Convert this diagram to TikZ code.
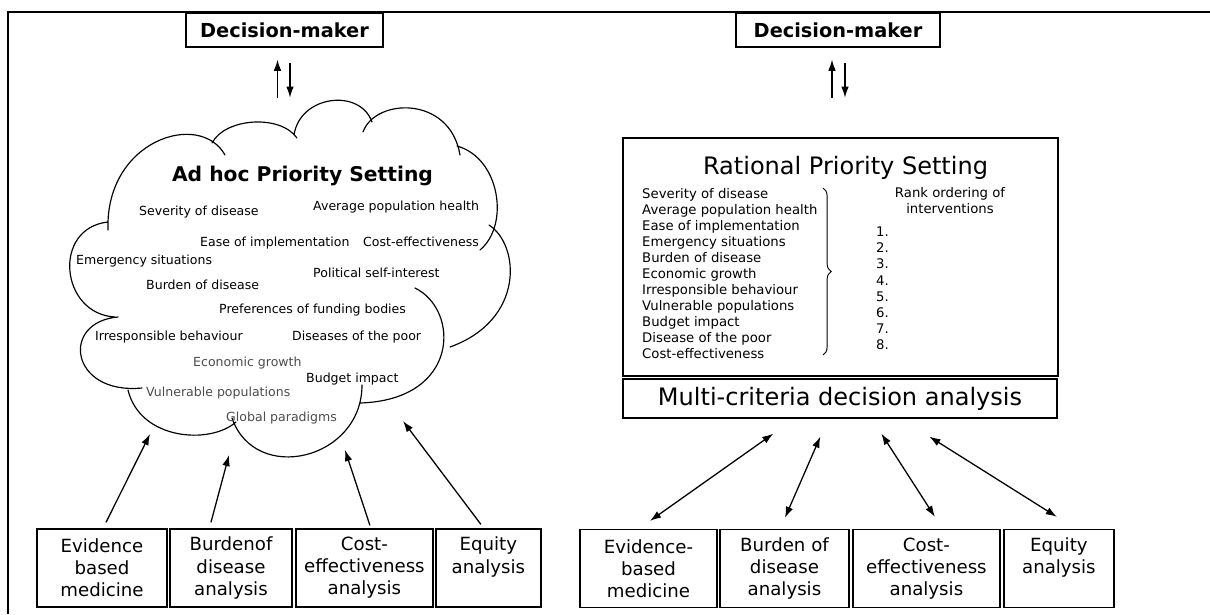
\documentclass[tikz,border=0pt]{standalone}
\usepackage{fontspec}
\setmainfont{DejaVu Sans}
\usepackage{tikz}
\usetikzlibrary{arrows.meta,positioning,calc,decorations.pathreplacing}
\tikzstyle{dmbox}=[draw,line width=1.1pt,font=\bfseries\fontsize{16.5}{19}\selectfont,minimum height=1.02cm,inner sep=0pt]
\tikzstyle{toolbox}=[draw,line width=1.1pt,align=center,font=\fontsize{15.5}{18.8}\selectfont,minimum height=2.34cm,inner sep=0pt]
\tikzstyle{item}=[anchor=west,inner sep=0pt,font=\fontsize{10.7}{13}\selectfont,text height=1.5ex,text depth=.25ex]
\tikzstyle{faint}=[item,text=black!70]
\tikzstyle{arr}=[line width=1.1pt,-{Latex[length=9.5pt,width=6.5pt]}]
\tikzstyle{dbl}=[line width=1.1pt,{Latex[length=9.5pt,width=6.5pt]}-{Latex[length=9.5pt,width=6.5pt]}]
\tikzstyle{puff}=[line width=1pt,line cap=round]

\begin{document}
\begin{tikzpicture}[x=0.03cm,y=-0.03cm]
	\useasboundingbox (0,0) rectangle (1210,614);
	\draw[line width=1.1pt] (8,614) -- (8,12) -- (1210,12);

	% left half: ad hoc
	\node[dmbox,minimum width=5.91cm] (dml) at (284.5,30) {Decision-maker};
	\draw[arr] ($(dml.south)+(-7,50)$) -- ($(dml.south)+(-7,12)$);
	\draw[arr] ($(dml.south)+(5.5,15)$) -- ($(dml.south)+(5.5,50)$);

	\draw[puff] (115,317) .. controls (60,314) and (52,228) .. (108,222)
		(108,230) .. controls (105,140) and (200,110) .. (225,155)
		(212,143) .. controls (225,118) and (280,114) .. (297,138)
		(294,135) .. controls (300,95) and (360,88) .. (372,122)
		(363,132) .. controls (375,98) and (450,95) .. (460,155)
		(457,146) .. controls (500,158) and (510,225) .. (480,250)
		(489,225) .. controls (520,245) and (525,320) .. (450,347)
		(415,288) .. controls (460,310) and (460,400) .. (360,403)
		(362,385) .. controls (362,460) and (255,485) .. (232,418)
		(236,422) .. controls (210,445) and (140,440) .. (128,390)
		(142,388) .. controls (70,395) and (60,322) .. (118,317);

	\node[font=\bfseries\fontsize{17.3}{20}\selectfont] (adhoc) at (302.5,176) {Ad hoc Priority Setting};
	\node[item] (sev) at (139,211) {Severity of disease};
	\node[item] (avg) at (313,206) {Average population health};
	\node[item] (ease) at (200,242) {Ease of implementation};
	\node[item] (ce) at (363,242) {Cost-effectiveness};
	\node[item] (emg) at (76,260) {Emergency situations};
	\node[item] (pol) at (313,273) {Political self-interest};
	\node[item] (bod) at (146,285) {Burden of disease};
	\node[item] (pref) at (219,309) {Preferences of funding bodies};
	\node[item] (irr) at (95,336) {Irresponsible behaviour};
	\node[item] (poor) at (292,336) {Diseases of the poor};
	\node[faint] (eco) at (193,362) {Economic growth};
	\node[item] (bud) at (306,378) {Budget impact};
	\node[faint] (vul) at (146,392) {Vulnerable populations};
	\node[faint] (glob) at (226,417) {Global paradigms};

	\node[toolbox,minimum width=3.9cm] (ebm) at (102,568) {Evidence\\based\\medicine};
	\node[toolbox,minimum width=3.66cm,right=0.05cm of ebm] (bda) {Burdenof\\disease\\analysis};
	\node[toolbox,minimum width=4.11cm,right=0.08cm of bda] (cea) {Cost-\\effectiveness\\analysis};
	\node[toolbox,minimum width=3.15cm,right=0.05cm of cea] (eqa) {Equity\\analysis\\\phantom{analysis}};

	\coordinate (p1) at (150,434);
	\coordinate (p2) at (229,455);
	\coordinate (p3) at (345,450);
	\coordinate (p4) at (403,421);
	\draw[arr] ($(ebm.north)+(4,-6)$) -- (p1);
	\draw[arr] ($(bda.north)+(-20,-6)$) -- (p2);
	\draw[arr] ($(cea.north)+(5.5,-3)$) -- (p3);
	\draw[arr] ($(eqa.north)+(-7.5,-4)$) -- (p4);

	% right half: rational
	\node[dmbox,minimum width=6.12cm] (dmr) at (838,30) {Decision-maker};
	\draw[arr] ($(dmr.south)+(-6,50)$) -- ($(dmr.south)+(-6,12)$);
	\draw[arr] ($(dmr.south)+(7,15)$) -- ($(dmr.south)+(7,50)$);

	\node[draw,line width=1.1pt,minimum width=13.05cm,minimum height=7.14cm,inner sep=0pt] (rps) at (840.5,257) {};
	\node[font=\fontsize{20.5}{24}\selectfont] (rtitle) at (845.5,168) {Rational Priority Setting};
	\node[anchor=north west,align=left,inner sep=0pt,font=\fontsize{11.3}{13.7}\selectfont] (crit) at (642,188)
		{Severity of disease\\Average population health\\Ease of implementation\\Emergency situations\\Burden of disease\\Economic growth\\Irresponsible behaviour\\Vulnerable populations\\Budget impact\\Disease of the poor\\Cost-effectiveness};
	\draw[line width=0.8pt,decorate,decoration={brace,amplitude=7pt}] (823,188) -- (823,355);
	\node[anchor=north,align=center,inner sep=0pt,font=\fontsize{11.3}{13.7}\selectfont] (rank) at (950,187) {Rank ordering of\\interventions};
	\node[anchor=north west,align=left,inner sep=0pt,font=\fontsize{11.3}{13.7}\selectfont] (nums) at (876,227) {1.\\2.\\3.\\4.\\5.\\6.\\7.\\8.};

	\node[draw,line width=1.1pt,minimum width=13.02cm,minimum height=1.17cm,inner sep=0pt,font=\fontsize{20.5}{24}\selectfont,below right=0.05cm and 0cm of rps.south west] (mcda) {Multi-criteria decision analysis};

	\node[toolbox,minimum width=4.11cm] (ebm2) at (648.5,568.5) {Evidence-\\based\\medicine};
	\node[toolbox,minimum width=3.87cm,right=0.05cm of ebm2] (bda2) {Burden of\\disease\\analysis};
	\node[toolbox,minimum width=4.41cm,right=0.08cm of bda2] (cea2) {Cost-\\effectiveness\\analysis};
	\node[toolbox,minimum width=3.3cm,right=0.08cm of cea2] (eqa2) {Equity\\analysis\\\phantom{analysis}};

	\draw[dbl] ($(mcda.south west)+(151,15)$) -- ($(ebm2.north)+(1.5,-8)$);
	\draw[dbl] ($(mcda.south west)+(198,18)$) -- ($(bda2.north)+(0.5,-11)$);
	\draw[dbl] ($(mcda.south west)+(259,15)$) -- ($(cea2.north)+(8.5,-12)$);
	\draw[dbl] ($(mcda.south west)+(307,18)$) -- ($(eqa2.north)+(-2,-12)$);

\end{tikzpicture}
\end{document}
